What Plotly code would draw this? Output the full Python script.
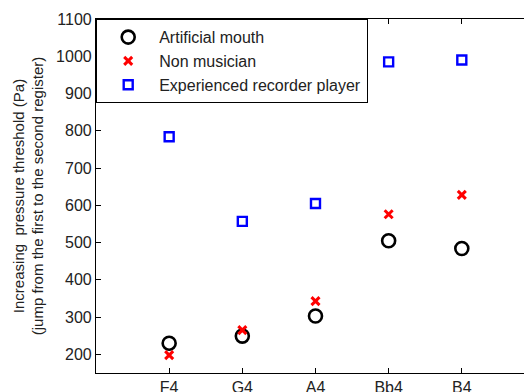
import plotly.graph_objects as go

notes = ["F4", "G4", "A4", "Bb4", "B4"]
note_pos = [1, 2, 3, 4, 5]
artificial_mouth = [230, 249, 303, 505, 484]
non_musician = [198, 265, 343, 576, 628]
experienced = [784, 557, 605, 985, 990]
y_ticks = [200, 300, 400, 500, 600, 700, 800, 900, 1000, 1100]

FONT = "Liberation Sans, Arial, sans-serif"

fig = go.Figure()
fig.add_trace(go.Scatter(x=note_pos, y=artificial_mouth, mode="markers", name="Artificial mouth",
                         marker=dict(symbol="circle-open", size=13, color="black", line=dict(width=2.6))))
fig.add_trace(go.Scatter(x=note_pos, y=non_musician, mode="markers", name="Non musician",
                         marker=dict(symbol="x-thin-open", size=8, color="red", line=dict(width=3, color="red"))))
fig.add_trace(go.Scatter(x=note_pos, y=experienced, mode="markers", name="Experienced recorder player",
                         marker=dict(symbol="square-open", size=9, color="blue", line=dict(width=2.4, color="blue"))))

fig.update_layout(
    width=524, height=392,
    margin=dict(l=96, r=0, t=19, b=19, autoexpand=False),
    paper_bgcolor="white", plot_bgcolor="white",
    font=dict(family=FONT, size=16, color="#222"),
    showlegend=True,
    legend=dict(x=0, y=1, xanchor="left", yanchor="top", bgcolor="white",
                bordercolor="black", borderwidth=1.2, font=dict(size=16, color="#222"),
                itemwidth=52, tracegroupgap=0),
    xaxis=dict(range=[0, 5.85], tickmode="array", tickvals=note_pos, ticktext=notes,
               ticks="inside", ticklen=5, tickcolor="black", showgrid=False, zeroline=False,
               showline=True, linecolor="black", linewidth=1.2, mirror="ticks", automargin=False),
    yaxis=dict(range=[150, 1100], tickmode="array", tickvals=y_ticks,
               ticks="inside", ticklen=5, tickcolor="black", showgrid=False, zeroline=False,
               showline=True, linecolor="black", linewidth=1.2, mirror=False, automargin=False,
               title=dict(text="Increasing  pressure threshold (Pa)<br>(jump from the first to the second register)",
                          font=dict(size=15), standoff=8)),
)

fig.write_html("out.html", config={"displayModeBar": False},
               post_script="document.body.style.margin='0';document.body.style.overflow='hidden';")
